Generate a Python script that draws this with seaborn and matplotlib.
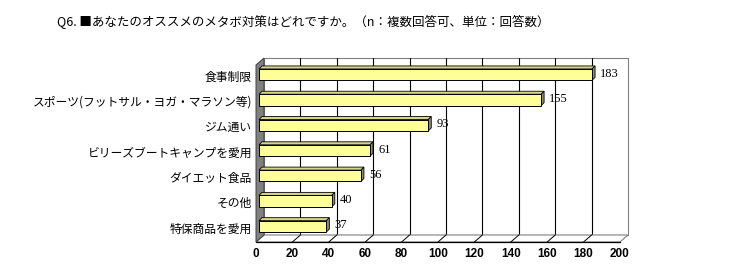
import matplotlib
matplotlib.use("Agg")
import numpy as np
import pandas as pd
import matplotlib.pyplot as plt
import seaborn as sns
from matplotlib.patches import Polygon
from matplotlib.lines import Line2D
from matplotlib.transforms import IdentityTransform, ScaledTranslation

# ---- data ----
categories = ['食事制限', 'スポーツ(フットサル・ヨガ・マラソン等)', 'ジム通い',
              'ビリーズブートキャンプを愛用', 'ダイエット食品', 'その他', '特保商品を愛用']
counts = [183, 155, 93, 61, 56, 40, 37]
x_ticks = [0, 20, 40, 60, 80, 100, 120, 140, 160, 180, 200]
title = 'Q6. ■あなたのオススメのメタボ対策はどれですか。（n：複数回答可、単位：回答数）'

sns.set_theme(style='white')
plt.rcParams['font.family'] = ['Noto Sans CJK JP', 'DejaVu Sans']

W, H = 730, 271
fig = plt.figure(figsize=(W / 100, H / 100), dpi=100)
fig.patch.set_facecolor('white')
ax = fig.add_axes([256 / W, 29 / H, 364 / W, 177 / H])

df = pd.DataFrame({'item': categories, 'count': counts})
sns.barplot(data=df, x='count', y='item', orient='h', color='#FFFF99',
            saturation=1, width=0.45, edgecolor='black', linewidth=0.7, ax=ax)

n = len(categories)
ybot, ytop = n - 0.5, -0.5
ax.set_xlim(x_ticks[0], x_ticks[-1])
ax.set_ylim(ybot, ytop)
for s in ax.spines.values():
    s.set_visible(False)
ax.set_facecolor('none')
ax.grid(False)
ax.set_xlabel('')
ax.set_ylabel('')
ax.set_xticks(x_ticks)
ax.set_xticklabels([str(t) for t in x_ticks], fontfamily='Liberation Sans',
                   fontweight='bold', fontsize=8.5)
ax.tick_params(axis='x', length=0, pad=4, colors='black')
ax.tick_params(axis='y', length=0, pad=3, labelsize=8.5, colors='black')
up = ScaledTranslation(0, 2 / 100, fig.dpi_scale_trans)
for lab in ax.get_yticklabels():
    lab.set_transform(lab.get_transform() + up)

ID = IdentityTransform()


def P(x, y, dx=0.0, dy=0.0):
    X, Y = ax.transData.transform((x, y))
    return (X + dx, Y + dy)


def poly(pts, fc, ec, lw, z):
    ax.add_patch(Polygon(pts, closed=True, facecolor=fc, edgecolor=ec,
                         linewidth=lw, transform=ID, clip_on=False, zorder=z))


def line(p1, p2, c, lw, z):
    ax.add_line(Line2D([p1[0], p2[0]], [p1[1], p2[1]], color=c, linewidth=lw,
                       transform=ID, clip_on=False, zorder=z))


BDX, BDY = 8, 7
xmin, xmax = x_ticks[0], x_ticks[-1]
# back wall
poly([P(xmin, ybot, BDX, BDY), P(xmax, ybot, BDX, BDY),
      P(xmax, ytop, BDX, BDY), P(xmin, ytop, BDX, BDY)], 'white', '#808080', 0.8, 0.2)
for t in x_ticks[1:-1]:
    line(P(t, ybot, BDX, BDY), P(t, ytop, BDX, BDY), 'black', 0.8, 0.3)
# floor
poly([P(xmin, ybot), P(xmax, ybot), P(xmax, ybot, BDX, BDY), P(xmin, ybot, BDX, BDY)],
     'white', '#808080', 0.8, 0.4)
line(P(xmin, ybot), P(xmax, ybot), 'black', 0.9, 0.5)
for t in x_ticks[1:-1]:
    line(P(t, ybot), P(t, ybot, BDX, BDY), 'black', 0.7, 0.5)
# left wall
poly([P(xmin, ybot), P(xmin, ytop), P(xmin, ytop, BDX, BDY), P(xmin, ybot, BDX, BDY)],
     '#808080', '#404040', 0.7, 0.6)

# 3D bars
OFF, DEP = 3, 3
shift = ScaledTranslation(OFF / 100, OFF / 100, fig.dpi_scale_trans)
for p, v in zip(ax.patches, counts):
    x0, w = p.get_x(), p.get_width()
    y0, h = p.get_y(), p.get_height()
    p.set_transform(ax.transData + shift)
    p.set_zorder(3)
    xl, ya = P(x0, y0, OFF, OFF)
    xr, yb_ = P(x0 + w, y0 + h, OFF, OFF)
    yt, yb = max(ya, yb_), min(ya, yb_)
    poly([(xl, yt), (xr, yt), (xr + DEP, yt + DEP), (xl + DEP, yt + DEP)],
         '#D6D68A', 'black', 0.6, 2.9)
    poly([(xr, yb), (xr, yt), (xr + DEP, yt + DEP), (xr + DEP, yb + DEP)],
         '#8F8F5C', 'black', 0.6, 2.9)
    ax.text(xr + DEP + 5, (yt + yb) / 2 + 1, str(v), transform=ID, ha='left',
            va='center', fontsize=9, fontfamily='Liberation Serif', color='black',
            zorder=4)

fig.text(57 / W, 1 - 22 / H, title, ha='left', va='center', fontsize=9, color='black')

fig.savefig('out.png', dpi=100, facecolor='white')
